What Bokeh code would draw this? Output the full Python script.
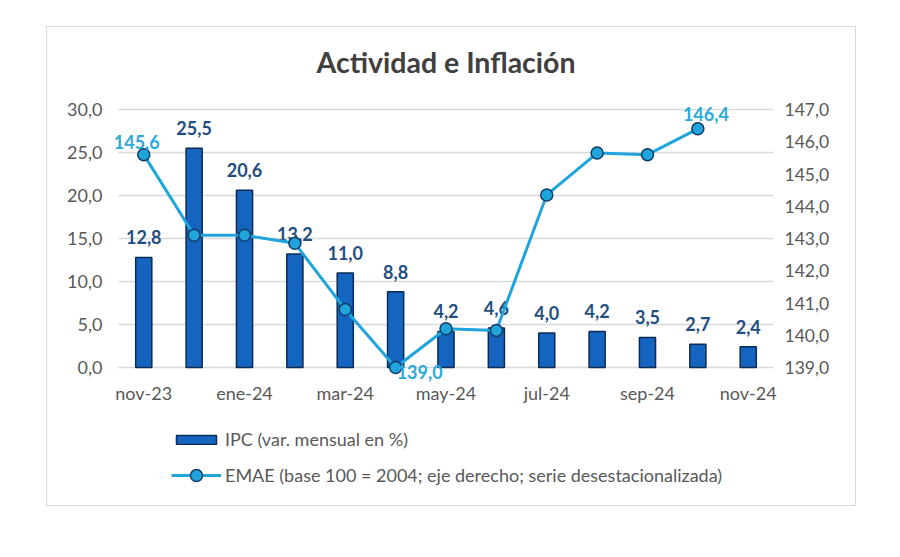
from bokeh.plotting import figure
from bokeh.models import (ColumnDataSource, Range1d, LinearAxis, FixedTicker,
                          CustomJSTickFormatter, Legend, LegendItem, Label)
from bokeh.core.properties import value
from bokeh.embed import file_html
from bokeh.resources import INLINE

# ---- data ----
title_text = "Actividad e Inflación"
months = ["nov-23", "dic-23", "ene-24", "feb-24", "mar-24", "abr-24", "may-24",
          "jun-24", "jul-24", "ago-24", "sep-24", "oct-24", "nov-24"]
ipc = [12.8, 25.5, 20.6, 13.2, 11.0, 8.8, 4.2, 4.6, 4.0, 4.2, 3.5, 2.7, 2.4]
emae = [145.6, 143.1, 143.1, 142.85, 140.8, 139.0, 140.2, 140.15, 144.35,
        145.65, 145.6, 146.4]
emae_labeled = ["nov-23", "abr-24", "oct-24"]
x_tick_labels = ["nov-23", "ene-24", "mar-24", "may-24", "jul-24", "sep-24", "nov-24"]
ipc_ticks = [0, 5, 10, 15, 20, 25, 30]
emae_ticks = [139, 140, 141, 142, 143, 144, 145, 146, 147]
ipc_name = "IPC (var. mensual en %)"
emae_name = "EMAE (base 100 = 2004; eje derecho; serie desestacionalizada)"

FONT = "Lato"
BAR = "#1565c0"
BAR_LINE = "#0b2a55"
BAR_LBL = "#1f4e80"
LINE = "#1fa5dc"
LINE_LBL = "#2aa9dc"
AX_TXT = "#595959"

# layout (pixels)
FIG_W, FIG_H = 810, 480
MB_TOP, MB_BOT = 1, 10
TOP_PX, BAND_PX = 81, 258          # space above 30-gridline, height of 0..30 band
FRAME_H = FIG_H - MB_TOP - MB_BOT
BOT_PX = FRAME_H - TOP_PX - BAND_PX
PAD_X = 0.2                        # category units of extra room left/right

def fmt(v):
    return f"{v:.1f}".replace(".", ",")

xi = list(range(len(months)))
bar_src = ColumnDataSource(dict(x=xi, y=ipc, lbl=[fmt(v) for v in ipc]))
ex = xi[:len(emae)]
line_src = ColumnDataSource(dict(x=ex, y=emae))
lab_idx = [months.index(m) for m in emae_labeled]
lab_src = ColumnDataSource(dict(x=[xi[i] for i in lab_idx],
                                y=[emae[i] for i in lab_idx],
                                lbl=[fmt(emae[i]) for i in lab_idx],
                                dx=[-7, 24, 8], dy=[-13, 4, -15]))

y_lo, y_hi = ipc_ticks[0], ipc_ticks[-1]
e_lo, e_hi = emae_ticks[0], emae_ticks[-1]
top_f, bot_f = TOP_PX / BAND_PX, BOT_PX / BAND_PX

p = figure(width=FIG_W, height=FIG_H, output_backend="svg", toolbar_location=None,
           x_range=Range1d(-0.5 - PAD_X, len(months) - 0.5 + PAD_X),
           y_range=Range1d(y_lo - bot_f * (y_hi - y_lo), y_hi + top_f * (y_hi - y_lo)),
           min_border_left=61, min_border_right=74, min_border_top=MB_TOP,
           min_border_bottom=MB_BOT)
p.margin = (26, 0, 0, 46)
p.styles = {"border": "1px solid #d9d9d9"}
p.outline_line_color = None
p.background_fill_color = "white"
p.border_fill_color = "white"

p.extra_y_ranges = {"emae": Range1d(e_lo - bot_f * (e_hi - e_lo), e_hi + top_f * (e_hi - e_lo))}

# title as a label inside the frame
p.add_layout(Label(x=(len(months) - 1) / 2, y=FRAME_H - 33, y_units="screen",
                   text=title_text, text_font=FONT, text_font_size="28.5px",
                   text_font_style="bold", text_color="#404040",
                   text_align="center", text_baseline="middle"))

fmt_code = "return tick.toFixed(1).replace('.', ',');"

# axes
p.xaxis.ticker = FixedTicker(ticks=[months.index(m) for m in x_tick_labels])
p.xaxis.major_label_overrides = {months.index(m): m for m in x_tick_labels}
p.xaxis.fixed_location = 0
for ax in [p.xaxis[0], p.yaxis[0]]:
    ax.axis_line_color = None
    ax.major_tick_line_color = None
    ax.minor_tick_line_color = None
    ax.major_label_text_font = FONT
    ax.major_label_text_font_size = "18px"
    ax.major_label_text_color = AX_TXT
p.xaxis.major_label_standoff = 8
p.yaxis.ticker = FixedTicker(ticks=ipc_ticks)
p.yaxis.formatter = CustomJSTickFormatter(code=fmt_code)
p.yaxis.major_label_standoff = 0

ry = LinearAxis(y_range_name="emae", ticker=FixedTicker(ticks=emae_ticks),
                formatter=CustomJSTickFormatter(code=fmt_code))
ry.axis_line_color = None
ry.major_tick_line_color = None
ry.minor_tick_line_color = None
ry.major_label_text_font = FONT
ry.major_label_text_font_size = "17.5px"
ry.major_label_text_color = AX_TXT
ry.major_label_standoff = -5
p.add_layout(ry, "right")

p.xgrid.grid_line_color = None
p.ygrid.grid_line_color = "#d9d9d9"
p.ygrid.grid_line_width = 1.5
p.ygrid.ticker = FixedTicker(ticks=ipc_ticks)
try:
    p.ygrid[0].cross_bounds = (-0.5, len(months) - 0.5)
except Exception:
    pass

bars = p.vbar(x="x", top="y", bottom=0, width=0.32, source=bar_src, fill_color=BAR,
              line_color=BAR_LINE, line_width=1.5)
p.text(x="x", y="y", text="lbl", source=bar_src, text_font=value(FONT),
       text_font_size="18px", text_font_style="bold", text_color=BAR_LBL,
       text_align="center", text_baseline="middle", y_offset=-20)

ln = p.line(x="x", y="y", source=line_src, y_range_name="emae",
            line_color=LINE, line_width=3)
pts = p.scatter(x="x", y="y", source=line_src, y_range_name="emae", size=12,
                fill_color=LINE, line_color="#123a66", line_width=1.5)
p.text(x="x", y="y", text="lbl", source=lab_src, y_range_name="emae",
       text_font=value(FONT), text_font_size="18px", text_font_style="bold",
       text_color=LINE_LBL, text_align="center", text_baseline="middle",
       x_offset="dx", y_offset="dy")

def make_legend(items, loc, gh):
    lg = Legend(items=items, location=loc)
    lg.border_line_color = None
    lg.background_fill_alpha = 0
    lg.padding = 0
    lg.margin = 0
    lg.spacing = 0
    lg.glyph_width = 50
    lg.glyph_height = gh
    lg.label_height = 22
    lg.label_standoff = 4
    lg.label_text_font = FONT
    lg.label_text_font_size = "18px"
    lg.label_text_color = AX_TXT
    return lg

p.add_layout(make_legend([LegendItem(label=ipc_name, renderers=[bars])], (63, 47), 11), "center")
p.add_layout(make_legend([LegendItem(label=emae_name, renderers=[ln, pts])], (63, 7), 30), "center")

open("out.html", "w").write(file_html(p, INLINE))
